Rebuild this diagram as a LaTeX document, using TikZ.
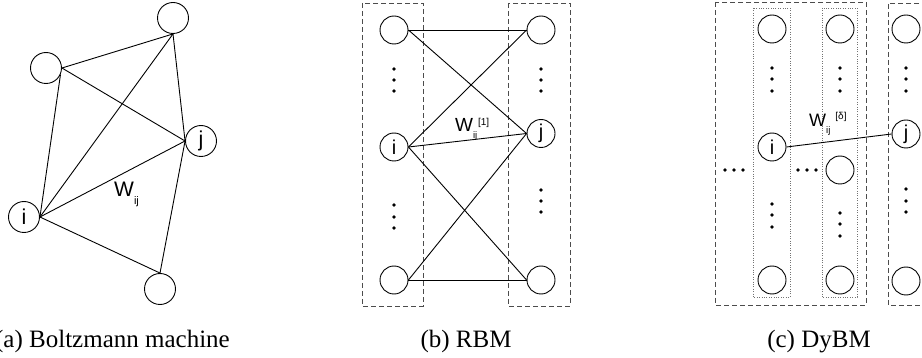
\documentclass[tikz,border=0pt]{standalone}
\usepackage{fontspec}
\setmainfont{Liberation Serif}
\newfontfamily\labsans{Liberation Sans}
\begin{document}
\begin{tikzpicture}[x=1pt,y=-1pt,
  unit/.style={circle,draw,line width=0.9pt,minimum size=28pt,inner sep=0pt,font=\labsans\fontsize{20}{20}\selectfont},
  unita/.style={unit,minimum size=31pt,font=\labsans\fontsize{21.5}{21.5}\selectfont},
  edge/.style={line width=0.9pt},
  dashbox/.style={draw=black!70,line width=0.9pt,dash pattern=on 5pt off 3pt},
  dotbox/.style={draw=black!55,line width=0.8pt,dash pattern=on 0.8pt off 1.6pt},
  ell/.style={circle,fill,inner sep=0pt,minimum size=3.6pt},
  captext/.style={font=\fontsize{25}{30}\selectfont,inner sep=0pt},
  wlab/.style={font=\labsans,inner sep=0pt}
]
\useasboundingbox (0,0) rectangle (922,358);

% ---------- (a) Boltzmann machine ----------
\node[unita] (atop) at (173,18) {};
\node[unita] (aul) at (46,68) {};
\node[unita] (aj) at (201,141) {\raisebox{-2pt}{j}};
\node[unita] (ai) at (24,217) {i};
\node[unita] (abot) at (160,289) {};
\draw[edge] (aul.east) -- (atop.south);
\draw[edge] (aul.east) -- (aj.west);
\draw[edge] (aul.-25) -- (ai.east);
\draw[edge] (atop.south) -- (ai.east);
\draw[edge] (atop.south) -- (aj.west);
\draw[edge] (ai.east) -- (aj.west);
\draw[edge] (ai.east) -- (abot.north);
\draw[edge] (aj.west) -- (abot.north);
\node[wlab,anchor=base west] (wa) at (114,197) {\fontsize{21}{21}\selectfont W\raisebox{-8pt}{\fontsize{11}{11}\selectfont ij}};
\node[captext,anchor=base east] (capa) at (230,348) {(a) Boltzmann machine};

% ---------- (b) RBM ----------
\draw[dashbox] (362,3) rectangle (423,306);
\draw[dashbox] (508,3) rectangle (570,306);
\node[unit] (btl) at (394,30) {};
\node[unit] (bi) at (394,147) {i};
\node[unit] (bbl) at (394,280) {};
\node[unit] (btr) at (541,30) {};
\node[unit] (bj) at (541,133.5) {\raisebox{-2pt}{j}};
\node[unit] (bbr) at (541,280) {};
\foreach \yy [count=\k] in {69,80,91,205,217,228} \node[ell] (bld\k) at (394,\yy) {};
\foreach \yy [count=\k] in {69,80,91,190,201,212} \node[ell] (brd\k) at (541,\yy) {};
\draw[edge] (btl.east) -- (btr.west);
\draw[edge] (btl.east) -- (bj.west);
\draw[edge] (bi.east) -- (btr.west);
\draw[edge] (bi.east) -- (bj.west);
\draw[edge] (bi.east) -- (bbr.west);
\draw[edge] (bbl.east) -- (bj.west);
\draw[edge] (bbl.east) -- (bbr.west);
\node[wlab,anchor=base west] (wb) at (455,132) {\fontsize{19}{19}\selectfont W\raisebox{-7pt}{\fontsize{9.5}{9.5}\selectfont ij}\kern0.8pt\raisebox{6.5pt}{\fontsize{10}{10}\selectfont [1]}};
\node[captext,anchor=base] (capb) at (466,348) {(b) RBM};

% ---------- (c) DyBM ----------
\draw[dashbox] (715,2) rectangle (866,305);
\draw[dashbox] (935,3) -- (888,3) -- (888,305) -- (935,305);
\draw[dotbox] (753,8) rectangle (790,297);
\draw[dotbox] (822,8) rectangle (857,297);
\node[unit] (c1t) at (772,29) {};
\node[unit] (ci) at (772,147) {i};
\node[unit] (c1b) at (772,280) {};
\node[unit] (c2t) at (840,29) {};
\node[unit] (c2m) at (840,170) {};
\node[unit] (c2b) at (840,280) {};
\node[unit] (c3t) at (906,29) {};
\node[unit] (cj) at (906,134) {\raisebox{-2pt}{j}};
\node[unit] (c3b) at (906,281) {};
\foreach \yy [count=\k] in {68,79,91,204,215,227} \node[ell] (c1d\k) at (772,\yy) {};
\foreach \yy [count=\k] in {68,79,91,213,224,236} \node[ell] (c2d\k) at (840,\yy) {};
\foreach \yy [count=\k] in {68,79,91,189,201,212} \node[ell] (c3d\k) at (906,\yy) {};
\foreach \xx [count=\k] in {725,734,743} \node[ell] (chl\k) at (\xx,170) {};
\foreach \xx [count=\k] in {798,807,816} \node[ell] (chm\k) at (\xx,170) {};
\draw[edge] (ci.east) -- (cj.west);
\node[wlab,anchor=base west] (wc) at (809,127) {\fontsize{18}{18}\selectfont W\raisebox{-7pt}{\fontsize{9.5}{9.5}\selectfont ij}\hspace{5pt}\raisebox{7.5pt}{\fontsize{10}{10}\selectfont [δ]}};
\node[captext,anchor=base] (capc) at (819,348) {(c) DyBM};
\end{tikzpicture}
\end{document}
